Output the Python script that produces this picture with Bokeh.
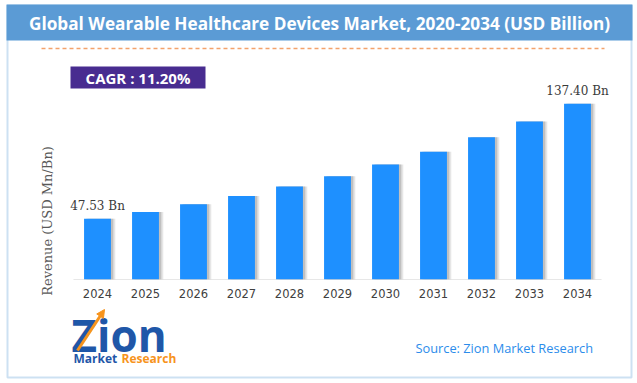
import math
from bokeh.plotting import figure
from bokeh.models import (ColumnDataSource, Range1d, BoxAnnotation, Label, Arrow,
                          LinearAxis, FixedTicker, NormalHead)
from bokeh.transform import dodge
from bokeh.core.properties import value
from bokeh.embed import file_html
from bokeh.resources import INLINE

# ---- data ----
years = ["2024", "2025", "2026", "2027", "2028", "2029", "2030", "2031", "2032", "2033", "2034"]
revenue = [47.53, 52.85, 58.77, 65.36, 72.68, 80.82, 89.87, 99.93, 111.13, 123.57, 137.40]
title_text = "Global Wearable Healthcare Devices Market, 2020-2034 (USD Billion)"
cagr_text = "CAGR :\u00a011.20%"
y_label_text = "Revenue (USD Mn/Bn)"
source_text = "Source: Zion Market Research"

idx = list(range(len(years)))
label_idx = [idx[0], idx[-1]]
label_values = [revenue[0], revenue[-1]]
label_texts = [f"{v:.2f} Bn" for v in label_values]

W, H = 637, 383
# layout of the drawing area in page pixels
PX0, PXSTEP = 97.0, 48.0      # centre of first category, category spacing
BASE_Y, PX_PER_UNIT = 279.0, 1.279


def sx(x):
    return x


def sy(y):
    return H - y


x_start = -PX0 / PXSTEP
x_end = x_start + W / PXSTEP
y_start = -(H - BASE_Y) / PX_PER_UNIT
y_end = BASE_Y / PX_PER_UNIT

p = figure(width=W, height=H, x_range=Range1d(x_start, x_end), y_range=Range1d(y_start, y_end),
           x_axis_type=None, y_axis_type=None,
           output_backend="svg", toolbar_location=None,
           min_border=0, min_border_left=0, min_border_right=0,
           min_border_top=0, min_border_bottom=0)
p.background_fill_color = "white"
p.border_fill_color = "white"
p.outline_line_color = None
p.grid.visible = False

ax = LinearAxis(fixed_location=0, ticker=FixedTicker(ticks=idx),
                major_label_overrides={i: y for i, y in zip(idx, years)})
ax.axis_line_color = None
ax.major_tick_line_color = None
ax.minor_tick_line_color = None
ax.major_tick_in = 0
ax.major_tick_out = 0
ax.major_label_standoff = 9
ax.major_label_text_font = "DejaVu Sans"
ax.major_label_text_font_size = "11.5px"
ax.major_label_text_color = "#404040"
p.add_layout(ax, "below")

# baseline of the category axis (spans the category band only)
p.add_layout(BoxAnnotation(left=idx[0] - 0.5, right=idx[-1] + 0.5, top=0, bottom=0,
                           fill_alpha=0, line_color="#D0D0D0", line_width=1))

src = ColumnDataSource(dict(x=idx, revenue=revenue))
p.vbar(x=dodge("x", 0.09), top="revenue", width=0.56, source=src,
       fill_color="#C8C8C8", fill_alpha=0.45, line_color=None)
p.vbar(x=dodge("x", 0.05), top="revenue", width=0.56, source=src,
       fill_color="#9A9A9A", fill_alpha=0.5, line_color=None)
p.vbar(x="x", top="revenue", width=0.56, source=src,
       fill_color="#1E90FF", line_color=None)

lsrc = ColumnDataSource(dict(x=label_idx, y=label_values, t=label_texts))
p.text(x="x", y="y", text="t", source=lsrc, y_offset=-13, text_align="center",
       text_baseline="middle", text_font=value("DejaVu Serif"), text_font_size="12px",
       text_color="#3A3A3A")


def sbox(l, r, t, b, **kw):
    return BoxAnnotation(left=sx(l), right=sx(r), top=sy(t), bottom=sy(b),
                         left_units="screen", right_units="screen",
                         top_units="screen", bottom_units="screen", **kw)


def slabel(x, y, text, **kw):
    return Label(x=sx(x), y=sy(y), x_units="screen", y_units="screen", text=text, **kw)


# ---- decorations (page pixels) ----
p.add_layout(sbox(6, 632, 4, 40, fill_color="#5B9BD5", fill_alpha=1, line_color=None))
p.add_layout(sbox(7, 631, 5, 377, fill_alpha=0, line_color="#5B9BD5", line_width=2))
p.add_layout(slabel(319, 23, title_text, text_align="center", text_baseline="middle",
                    text_font="Open Sans", text_font_style="bold", text_font_size="17.2px",
                    text_color="white"))
p.add_layout(Arrow(end=None, x_start=sx(41), y_start=sy(48), x_end=sx(604), y_end=sy(48),
                   start_units="screen", end_units="screen",
                   line_color="#F4A26B", line_width=1.5, line_dash="4 3"))
p.add_layout(sbox(70, 205, 66, 88, fill_color="#482C90", fill_alpha=1, line_color=None))
p.add_layout(slabel(137.5, 77.5, cagr_text, text_align="center", text_baseline="middle",
                    text_font="Open Sans", text_font_style="bold", text_font_size="15px",
                    text_color="white"))
p.add_layout(slabel(47, 220.5, y_label_text, angle=math.pi / 2, text_align="center",
                    text_baseline="middle", text_font="DejaVu Serif",
                    text_font_size="13px", text_color="#595959"))
p.add_layout(slabel(415, 347, source_text, text_align="left", text_baseline="middle",
                    text_font="Open Sans", text_font_size="12.8px", text_color="#2B8CEB"))
# logo
p.add_layout(slabel(71, 334, "Zion", text_align="left", text_baseline="middle",
                    text_font="Open Sans", text_font_style="bold", text_font_size="44px",
                    text_color="#1F57A8"))
p.add_layout(Arrow(end=NormalHead(size=8, fill_color="#F7941D", line_color="#F7941D"),
                   x_start=sx(77), y_start=sy(350), x_end=sx(104), y_end=sy(309),
                   start_units="screen", end_units="screen",
                   line_color="#F7941D", line_width=3))
p.add_layout(slabel(73, 358, "Market", text_align="left", text_baseline="middle",
                    text_font="Open Sans", text_font_style="bold", text_font_size="12px",
                    text_color="#1F57A8"))
p.add_layout(slabel(121, 358, "Research", text_align="left", text_baseline="middle",
                    text_font="Open Sans", text_font_style="bold", text_font_size="12px",
                    text_color="#F7941D"))

open("out.html", "w").write(file_html(p, INLINE))
